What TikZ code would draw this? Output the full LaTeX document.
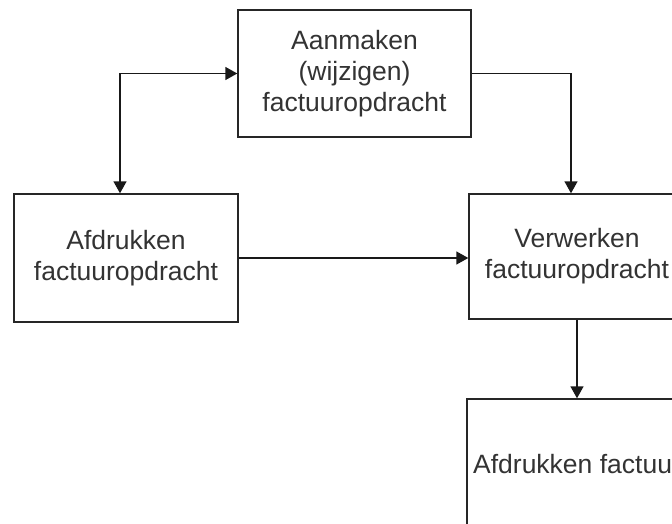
\documentclass[tikz,border=0pt]{standalone}
\usepackage{fontspec}
\setmainfont{Liberation Sans}
\usetikzlibrary{arrows.meta}
\begin{document}
\begin{tikzpicture}[x=1pt,y=-1pt,
  box/.style={draw=black!85, line width=1.4pt, fill=white, rectangle, inner sep=0pt,
    align=center, text=black!80, font=\fontsize{26.5}{31}\selectfont},
  arr/.style={draw=black!90, line width=1.4pt, -{Triangle[length=12pt,width=13pt]}},
  biarr/.style={draw=black!90, line width=1.4pt, {Triangle[length=12pt,width=13pt]}-{Triangle[length=12pt,width=13pt]}}]
  \useasboundingbox (0,0) rectangle (672,524);
  \clip (0,0) rectangle (672,524);
  % process steps
  \node[box, minimum width=233pt, minimum height=127pt] (aanm) at (354.5,73.5)
    {Aanmaken\\(wijzigen)\\factuuropdracht};
  \node[box, minimum width=224pt, minimum height=128pt] (afdr) at (126,258)
    {Afdrukken\\factuuropdracht};
  \node[box, minimum width=216pt, minimum height=125pt] (verw) at (577,256.5)
    {Verwerken\\factuuropdracht};
  \node[box, minimum width=220pt, minimum height=130pt] (fact) at (577,464)
    {Afdrukken factuur};
  % flows between the steps
  \draw[biarr] ([xshift=-6pt]afdr.north) |- (aanm.west);
  \draw[arr] (aanm.east) -| ([xshift=-6pt]verw.north);
  \draw[arr] (afdr.east) -- (afdr.east -| verw.west);
  \draw[arr] (verw.south) -- (fact.north);
\end{tikzpicture}
\end{document}
